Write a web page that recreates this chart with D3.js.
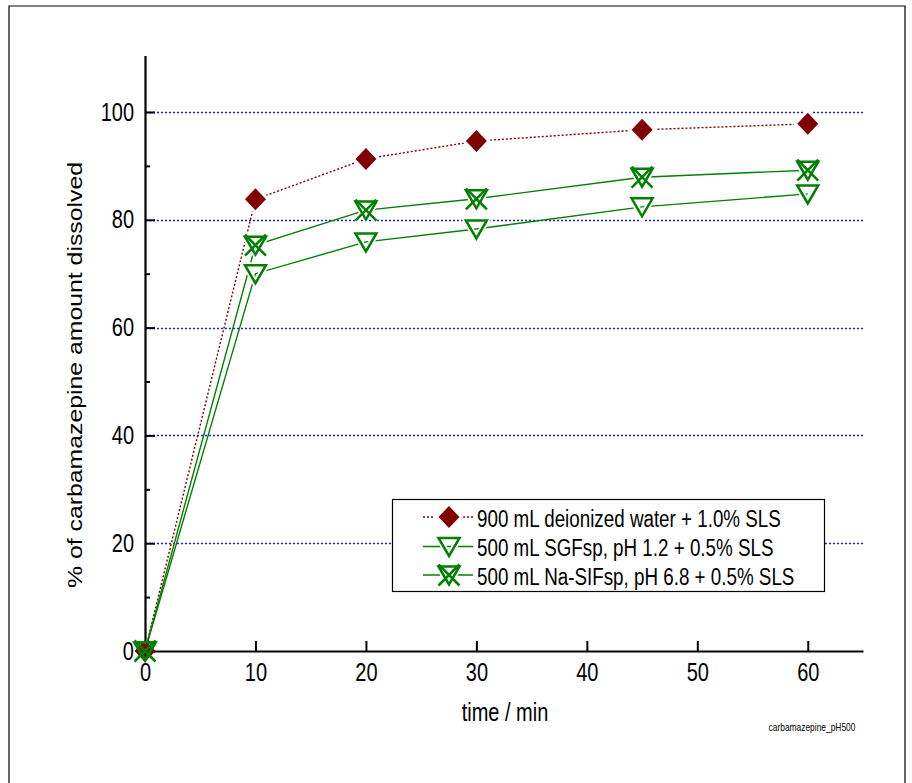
<!DOCTYPE html>
<html><head><meta charset="utf-8">
<script src="https://cdn.jsdelivr.net/npm/d3@7"></script>
<style>body{margin:0;background:#fff}svg{display:block}text{font-family:"Liberation Sans",Arial,sans-serif;fill:#000}</style>
</head><body><svg id="c" width="912" height="783"></svg>
<script>
const times = [0, 10, 20, 30, 45, 60];
const waterSLS = [0, 83.8, 91.3, 94.6, 96.7, 97.8];
const sgfSLS = [0, 70.0, 75.9, 78.3, 82.4, 84.8];
const sifSLS = [0, 75.3, 81.8, 83.9, 87.9, 89.2];
const seriesNames = ["900 mL deionized water + 1.0% SLS", "500 mL SGFsp, pH 1.2 + 0.5% SLS", "500 mL Na-SIFsp, pH 6.8 + 0.5% SLS"];
const xTicks = [0, 10, 20, 30, 40, 50, 60];
const yTicks = [0, 20, 40, 60, 80, 100];
const yMinorTicks = [10, 30, 50, 70, 90];
const xLabel = "time / min";
const yLabel = "% of carbamazepine amount dissolved";
const footnote = "carbamazepine_pH500";

const SY = 1.26; // vertical text stretch seen in the reference
const svg = d3.select("#c");
svg.append("rect").attr("width",912).attr("height",783).attr("fill","#fff");
svg.append("path").attr("d","M9,783 V6 H905 V783").attr("fill","none").attr("stroke","#000").attr("stroke-width",1.2);

const x = d3.scaleLinear().domain([0,65]).range([145,863]);
const y = d3.scaleLinear().domain([0,110.5]).range([651,55.4]);

// grid
svg.append("g").selectAll("line").data(yTicks.filter(d=>d>0)).join("line")
  .attr("x1",x(0)).attr("x2",x(65)).attr("y1",d=>Math.round(y(d))+0.5).attr("y2",d=>Math.round(y(d))+0.5)
  .attr("stroke","#1a1aff").attr("stroke-width",1.3).attr("stroke-dasharray","2,2");

function stretch(sel){
  sel.selectAll("text").each(function(){
    const t=d3.select(this); const yy=+t.attr("y")||0; const xx=+t.attr("x")||0;
    t.attr("x",0).attr("y",0).attr("transform",`translate(${xx},${yy}) scale(1,${SY})`);
  });
}
const gy = svg.append("g").attr("transform",`translate(${x(0)},0)`)
  .call(d3.axisLeft(y).tickValues(yTicks).tickSizeInner(-10).tickSizeOuter(0).tickPadding(11).tickFormat(d3.format("d")));
gy.select(".domain").attr("stroke-width",2.2);
gy.selectAll(".tick line").attr("stroke-width",2);
gy.selectAll("text").attr("font-size",20).attr("font-family","Liberation Sans, Arial");
stretch(gy);
const gym = svg.append("g").attr("transform",`translate(${x(0)},0)`)
  .call(d3.axisLeft(y).tickValues(yMinorTicks).tickSizeInner(-5).tickSizeOuter(0).tickFormat(""));
gym.select(".domain").remove();
gym.selectAll(".tick line").attr("stroke-width",2);

const gx = svg.append("g").attr("transform",`translate(0,${y(0)})`)
  .call(d3.axisBottom(x).tickValues(xTicks).tickSizeInner(-10).tickSizeOuter(0).tickPadding(12).tickFormat(d3.format("d")));
gx.select(".domain").attr("stroke-width",2.2);
gx.selectAll(".tick line").attr("stroke-width",2);
gx.selectAll("text").attr("font-size",20).attr("font-family","Liberation Sans, Arial");
stretch(gx);

svg.append("text").attr("transform",`translate(505,721) scale(1,${SY})`).attr("text-anchor","middle").attr("font-size",20).text(xLabel);
svg.append("text").attr("transform",`translate(82,375) rotate(-90) scale(${SY},1)`).attr("text-anchor","middle").attr("font-size",19.7).text(yLabel);
svg.append("text").attr("transform",`translate(812,731) scale(1,${SY})`).attr("text-anchor","middle").attr("font-size",8.4).attr("fill","#222").text(footnote);

const DARKRED="#800000", GREEN="#008000";
const diamondPath="M0,-11 L10.5,0 L0,11 L-10.5,0 Z";
const triPath="M-10.5,-8.5 L10.5,-8.5 L0,9.5 Z";
const xPath="M-10.5,-10.5 L10.5,10.5 M10.5,-10.5 L-10.5,10.5";
const series=[
  {vals:waterSLS, color:DARKRED, dash:"2,2", kind:"diamond"},
  {vals:sgfSLS, color:GREEN, dash:null, kind:"tri"},
  {vals:sifSLS, color:GREEN, dash:null, kind:"trix"}
];
function drawMarker(g, kind, color, halo){
  const sw = halo ? 6 : 2.5;
  const col = halo ? "#fff" : color;
  if(kind==="diamond"){
    g.append("path").attr("d",diamondPath).attr("fill",halo?"#fff":color).attr("stroke",halo?"#fff":"none").attr("stroke-width",sw);
  } else {
    g.append("path").attr("d",triPath).attr("fill","none").attr("stroke",col).attr("stroke-width",sw).attr("stroke-linejoin","miter");
    if(kind==="trix") g.append("path").attr("d",xPath).attr("fill","none").attr("stroke",col).attr("stroke-width",sw);
  }
}
const line=d3.line().x((d,i)=>x(times[i])).y(d=>y(d));
const linesG=svg.append("g"), haloG=svg.append("g"), markG=svg.append("g");
series.forEach(s=>{
  linesG.append("path").attr("d",line(s.vals)).attr("fill","none").attr("stroke",s.color)
    .attr("stroke-width",1.4).attr("stroke-dasharray",s.dash);
  s.vals.forEach((v,i)=>{
    if(i>0) drawMarker(haloG.append("g").attr("transform",`translate(${x(times[i])},${y(v)})`), s.kind, s.color, true);
    drawMarker(markG.append("g").attr("transform",`translate(${x(times[i])},${y(v)})`), s.kind, s.color, false);
  });
});

const lg=svg.append("g");
lg.append("rect").attr("x",392.5).attr("y",499.5).attr("width",432).attr("height",92).attr("fill","#fff").attr("stroke","#000").attr("stroke-width",1.2);
const rowY=[517,546.5,575];
series.forEach((s,i)=>{
  const r=lg.append("g").attr("transform",`translate(0,${rowY[i]})`);
  r.append("line").attr("x1",423).attr("x2",473).attr("y1",0).attr("y2",0).attr("stroke",s.color).attr("stroke-width",1.4).attr("stroke-dasharray",s.dash);
  drawMarker(r.append("g").attr("transform","translate(449,0)"), s.kind, s.color, true);
  drawMarker(r.append("g").attr("transform","translate(449,0)"), s.kind, s.color, false);
  r.append("text").attr("transform",`translate(477,9.5) scale(1,${SY})`).attr("font-size",18.8).text(seriesNames[i]);
});
</script></body></html>
